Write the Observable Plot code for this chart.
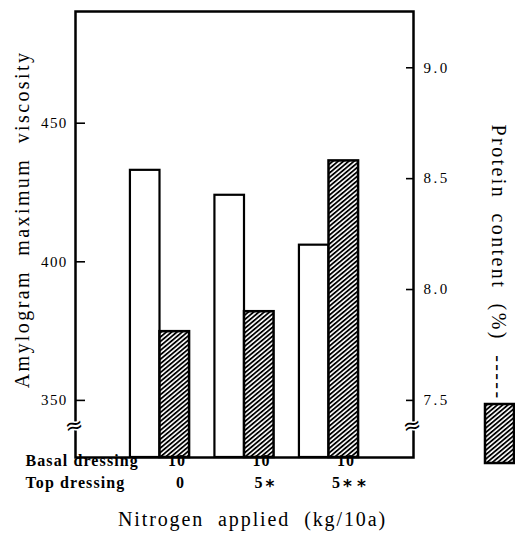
<!DOCTYPE html>
<html><head><meta charset="utf-8">
<script src="https://cdn.jsdelivr.net/npm/d3@7"></script>
<script src="https://cdn.jsdelivr.net/npm/@observablehq/plot@0.6"></script>
<style>body{margin:0;background:#fff}</style>
</head><body><div id="chart"></div>
<script>
// ---- data ----
const groups = [1, 2, 3];
const viscosity = [433, 424, 406];          // Amylogram maximum viscosity (white bars)
const protein = [7.81, 7.90, 8.58];         // Protein content % (hatched bars)
const basalDressing = ["10", "10", "10"];
const topDressing = ["0", "5*", "5**"];
const viscosityTicks = [350, 400, 450];
const proteinTicks = [7.5, 8.0, 8.5, 9.0];

// secondary axis mapping: protein -> viscosity units
const P0 = 7.5, V0 = 350, K = 80;
const toV = p => V0 + (p - P0) * K;
const toP = v => P0 + (v - V0) / K;

const rows = groups.map((g, i) => ({g, v: viscosity[i], p: toV(protein[i]), basal: basalDressing[i], top: topDressing[i]}));
const W = 0.35;
const yMin = 329.4, yMax = 490.3;
const HATCH = "#123456";
const serif = "'Liberation Serif', 'Times New Roman', serif";

const chart = Plot.plot({
  width: 515, height: 537,
  marginLeft: 75, marginRight: 102, marginTop: 11, marginBottom: 80,
  x: {domain: [0, 4], axis: null},
  y: {domain: [yMin, yMax], axis: null},
  style: {fontFamily: serif, fontSize: "15px", color: "black", background: "white"},
  marks: [
    Plot.rect(rows, {x1: d => d.g - W, x2: "g", y1: yMin, y2: "v", fill: "white", stroke: "black", strokeWidth: 2.2}),
    Plot.rect(rows, {x1: "g", x2: d => d.g + W, y1: yMin, y2: "p", fill: HATCH, stroke: "black", strokeWidth: 2.5}),
    Plot.frame({stroke: "black", strokeWidth: 2.5}),
    Plot.axisY({anchor: "left", ticks: viscosityTicks, tickSize: 10, dx: 10, strokeWidth: 1.6, tickFormat: () => "", label: null}),
    Plot.axisY({anchor: "left", ticks: viscosityTicks, tickSize: 0, tickPadding: 8, fontSize: 15, label: null}),
    Plot.axisY({anchor: "right", ticks: proteinTicks.map(toV), tickSize: 8, dx: -8, strokeWidth: 1.6, tickFormat: () => "", label: null}),
    Plot.axisY({anchor: "right", ticks: proteinTicks.map(toV), tickFormat: v => toP(v).toFixed(1), tickSize: 0, tickPadding: 10, fontSize: 15, label: null}),
    Plot.text(["≈"], {frameAnchor: "bottom-left", textAnchor: "middle", dy: -25, fontSize: 22, fontFamily: "DejaVu Sans", stroke: "white", strokeWidth: 3, fill: "black", rotate: -12}),
    Plot.text(["≈"], {frameAnchor: "bottom-right", textAnchor: "middle", dy: -25, fontSize: 22, fontFamily: "DejaVu Sans", stroke: "white", strokeWidth: 3, fill: "black", rotate: -12}),
    Plot.text(["Amylogram maximum viscosity"], {frameAnchor: "left", textAnchor: "middle", rotate: -90, dx: -53, dy: -15, fontSize: 20, fill: "black", ariaDescription: "ylabel"}),
    Plot.text(["Protein content (%) -----"], {frameAnchor: "right", textAnchor: "middle", rotate: 90, dx: 85, dy: 28, fontSize: 20, fill: "black", ariaDescription: "ylabel"}),
    Plot.text(["Nitrogen applied (kg/10a)"], {frameAnchor: "bottom", dx: 8, dy: 68, fontSize: 20, fill: "black", ariaDescription: "xlabel"}),
    Plot.text(["Basal dressing"], {frameAnchor: "bottom-left", textAnchor: "start", dx: -50, dy: 8, fontSize: 16, fontWeight: "bold", fill: "black", ariaDescription: "rowlabel"}),
    Plot.text(["Top dressing"], {frameAnchor: "bottom-left", textAnchor: "start", dx: -50, dy: 30, fontSize: 16, fontWeight: "bold", fill: "black", ariaDescription: "rowlabel"}),
    Plot.text(rows, {x: "g", text: "basal", frameAnchor: "bottom", dx: 17, dy: 8, fontSize: 16, fontWeight: "bold", fill: "black", ariaDescription: "rowlabel"}),
    Plot.text(rows, {x: "g", text: "top", frameAnchor: "bottom", textAnchor: "middle", dx: 20, dy: 30, fontSize: 16, fontWeight: "bold", fill: "black", ariaDescription: "toplabel"})
  ]
});

const svg = d3.select(chart);
const defs = svg.insert("defs", ":first-child");
const pat = defs.append("pattern").attr("id", "hatch").attr("patternUnits", "userSpaceOnUse")
  .attr("width", 3.4).attr("height", 3.4).attr("patternTransform", "rotate(50)");
pat.append("rect").attr("width", 3.4).attr("height", 3.4).attr("fill", "white");
pat.append("rect").attr("width", 1.8).attr("height", 3.4).attr("fill", "black");
svg.selectAll(`[fill="${HATCH}"]`).attr("fill", "url(#hatch)");
svg.selectAll('g[aria-description="ylabel"] text').style("letter-spacing", "2.4px").style("word-spacing", "7px");
svg.selectAll('g[aria-description="xlabel"] text').style("letter-spacing", "1.9px").style("word-spacing", "7px");
svg.selectAll('g[aria-description="rowlabel"] text').style("letter-spacing", "1.1px");
// larger, heavier asterisks as in the print
svg.selectAll('g[aria-description="toplabel"] text').each(function() {
  const t = this.textContent;
  const m = t.match(/^([^*]*)(\*+)$/);
  if (!m) return;
  const el = d3.select(this);
  el.text(m[1]);
  m[2].split("").forEach((s, i) => {
    el.append("tspan").text(s).attr("font-family", "DejaVu Sans").attr("font-size", 17)
      .attr("dx", i === 0 ? 3 : 5).attr("dy", i === 0 ? 4 : 0);
  });
});
svg.selectAll("text").filter(function() { return /^\d\.\d$/.test(this.textContent); }).style("letter-spacing", "2.5px");
svg.selectAll("text").filter(function() { return /^\d{3}$/.test(this.textContent); }).style("letter-spacing", "1.3px");
// legend swatch for the hatched (protein) bars
svg.append("rect").attr("x", 485).attr("y", 404).attr("width", 29).attr("height", 59)
  .attr("fill", "url(#hatch)").attr("stroke", "black").attr("stroke-width", 2.5);

document.getElementById("chart").appendChild(chart);
</script>
</body></html>
